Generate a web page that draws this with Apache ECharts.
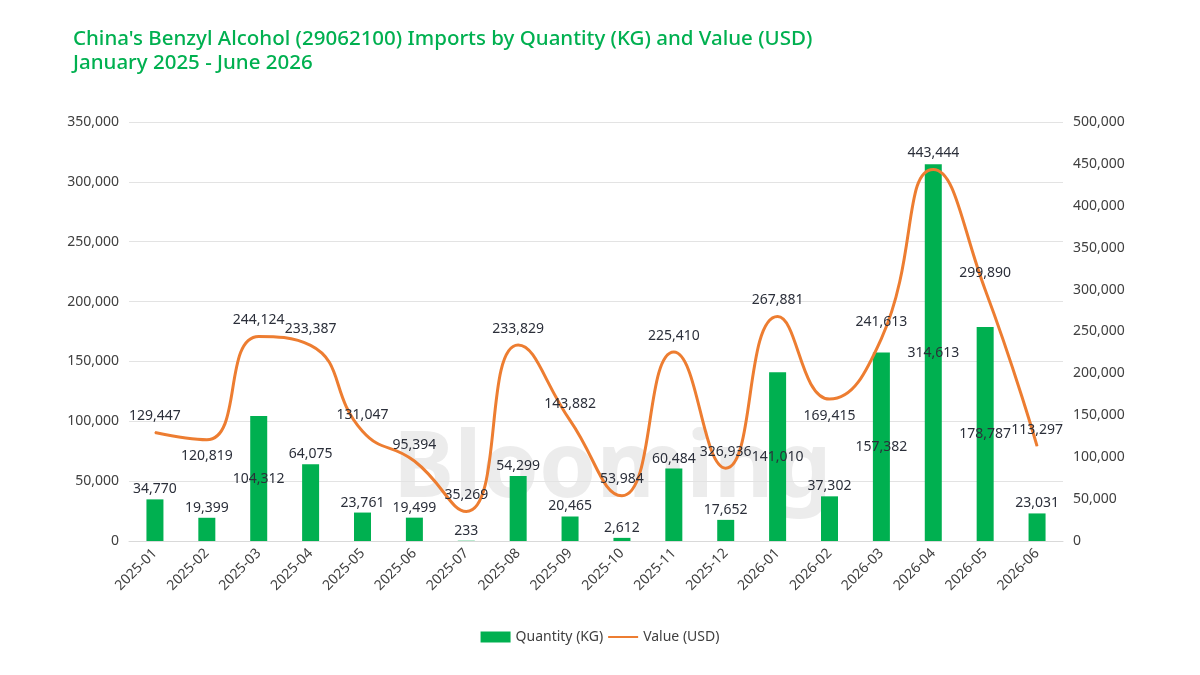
<!DOCTYPE html>
<html>
<head>
<meta charset="utf-8">
<script src="https://cdn.jsdelivr.net/npm/echarts@6/dist/echarts.min.js"></script>
<style>
  html, body { margin: 0; padding: 0; background: #fff; }
  #chart { width: 1200px; height: 675px; }
</style>
</head>
<body>
<div id="chart"></div>
<script>
// months on the x axis
const months = ['2025-01', '2025-02', '2025-03', '2025-04', '2025-05', '2025-06',
  '2025-07', '2025-08', '2025-09', '2025-10', '2025-11', '2025-12',
  '2026-01', '2026-02', '2026-03', '2026-04', '2026-05', '2026-06']

// Quantity (KG) - bars, left axis
const quantityKg = [34770, 19399, 104312, 64075, 23761, 19499, 233, 54299, 20465,
  2612, 60484, 17652, 141010, 37302, 157382, 314613, 178787, 23031]

// Value (USD) - line, right axis (2025-12 point drawn at ~86,936 in the picture)
const valueUsd = [129447, 120819, 244124, 233387, 131047, 95394, 35269, 233829, 143882,
  53984, 225410, 86936, 267881, 169415, 241613, 443444, 299890, 113297]

// labels as printed on the line (2025-12 label reads 326,936)
const valueLabels = ['129,447', '120,819', '244,124', '233,387', '131,047', '95,394', '35,269',
  '233,829', '143,882', '53,984', '225,410', '326,936', '267,881', '169,415', '241,613',
  '443,444', '299,890', '113,297']

// months whose line label sits under the line in the source
const valueLabelBelow = ['2025-02', '2026-02']

const leftTicks = [0, 350000, 50000]   // min, max, interval
const rightTicks = [0, 500000, 50000]

const fmt = v => Number(v).toLocaleString('en-US')
const FONT = 'Noto Sans'
const textColor = '#404040'
const labelColor = '#2b2f3a'

const chart = echarts.init(document.getElementById('chart'))

chart.setOption({
  textStyle: { fontFamily: FONT },
  title: {
    text: "China's Benzyl Alcohol (29062100) Imports by Quantity (KG) and Value (USD)\nJanuary 2025 - June 2026",
    left: 68,
    top: 22,
    textStyle: {
      color: '#00B050',
      fontSize: 20.5,
      fontWeight: 500,
      lineHeight: 24,
      fontFamily: FONT
    }
  },
  graphic: [{
    type: 'text',
    left: 393,
    top: 425,
    z: 0,
    style: {
      text: 'Blooming',
      fill: 'rgba(150,150,150,0.18)',
      font: 'bold 92px ' + FONT
    }
  }],
  legend: {
    bottom: 26,
    left: 'center',
    itemGap: 4,
    itemWidth: 30,
    itemHeight: 11,
    textStyle: { color: textColor, fontSize: 14, fontFamily: FONT },
    data: [
      { name: 'Quantity (KG)', icon: 'rect' },
      { name: 'Value (USD)', itemStyle: { opacity: 0 } }
    ]
  },
  grid: {
    left: 129,
    right: 137,
    top: 122,
    bottom: 134,
    containLabel: false
  },
  xAxis: {
    type: 'category',
    data: months,
    axisTick: { show: false },
    axisLine: { lineStyle: { color: '#d9d9d9' } },
    axisLabel: {
      rotate: 45,
      color: textColor,
      fontSize: 14,
      margin: 10
    }
  },
  yAxis: [
    {
      type: 'value',
      min: leftTicks[0],
      max: leftTicks[1],
      interval: leftTicks[2],
      axisLine: { show: false },
      axisTick: { show: false },
      splitLine: { lineStyle: { color: '#e3e3e3' } },
      axisLabel: { color: textColor, fontSize: 14, margin: 10, formatter: fmt }
    },
    {
      type: 'value',
      min: rightTicks[0],
      max: rightTicks[1],
      interval: rightTicks[2],
      axisLine: { show: false },
      axisTick: { show: false },
      splitLine: { show: false },
      axisLabel: { color: textColor, fontSize: 14, margin: 10, formatter: fmt }
    }
  ],
  series: [
    {
      name: 'Quantity (KG)',
      type: 'bar',
      yAxisIndex: 0,
      // tall bars carry their label inside, short ones on top
      data: quantityKg.map(v => v > 100000
        ? { value: v, label: { position: 'inside' } }
        : v),
      barWidth: 17,
      itemStyle: { color: '#00B050' },
      label: {
        show: true,
        position: 'top',
        distance: 3,
        color: labelColor,
        fontSize: 14,
        formatter: p => fmt(p.value)
      },
      z: 2
    },
    {
      name: 'Value (USD)',
      type: 'line',
      yAxisIndex: 1,
      data: valueUsd.map((v, i) => valueLabelBelow.includes(months[i])
        ? { value: v, label: { position: 'bottom' } }
        : v),
      smooth: true,
      symbol: 'circle',
      symbolSize: 1,
      lineStyle: { color: '#ED7D31', width: 3 },
      itemStyle: { color: '#ED7D31' },
      label: {
        show: true,
        position: 'top',
        distance: 9,
        color: labelColor,
        fontSize: 14,
        formatter: p => valueLabels[p.dataIndex]
      },
      z: 3
    }
  ]
})
</script>
</body>
</html>
